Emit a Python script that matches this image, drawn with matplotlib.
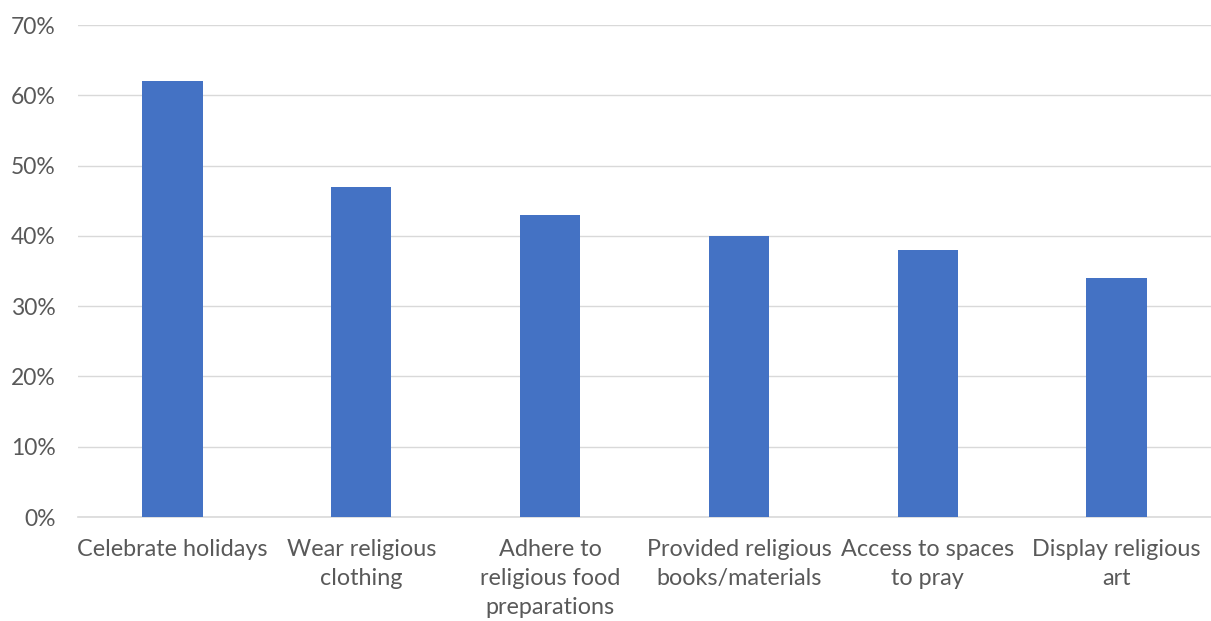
import matplotlib
matplotlib.use("Agg")
import matplotlib.pyplot as plt
from matplotlib.ticker import FuncFormatter

categories = [
    "Celebrate holidays",
    "Wear religious\nclothing",
    "Adhere to\nreligious food\npreparations",
    "Provided religious\nbooks/materials",
    "Access to spaces\nto pray",
    "Display religious\nart",
]
values = [62, 47, 43, 40, 38, 34]
y_ticks = [0, 10, 20, 30, 40, 50, 60, 70]

plt.rcParams["font.family"] = ["Lato", "DejaVu Sans"]
text_color = "#595959"
grid_color = "#d9d9d9"

fig = plt.figure(figsize=(12.11, 6.21), dpi=100)
ax = fig.add_axes([78 / 1211, 1 - 517 / 621, (1211 - 78) / 1211, (517 - 25) / 621])

x = list(range(len(categories)))
ax.bar(x, values, width=0.32, color="#4472C4", zorder=3)

ax.set_xlim(-0.5, len(categories) - 0.5)
ax.set_ylim(0, 70)
ax.set_yticks(y_ticks)
ax.yaxis.set_major_formatter(FuncFormatter(lambda v, _: f"{v:.0f}%"))
ax.set_xticks(x)
ax.set_xticklabels(categories, linespacing=1.45)

ax.grid(axis="y", color=grid_color, linewidth=1.0, zorder=0)
for side in ("top", "right", "left"):
    ax.spines[side].set_visible(False)
ax.spines["bottom"].set_color(grid_color)
ax.spines["bottom"].set_linewidth(1.2)

ax.tick_params(axis="both", length=0, colors=text_color)
ax.tick_params(axis="y", pad=16, labelsize=16.5)
ax.tick_params(axis="x", pad=16, labelsize=16.8)

fig.savefig("out.png", dpi=100, facecolor="white")
